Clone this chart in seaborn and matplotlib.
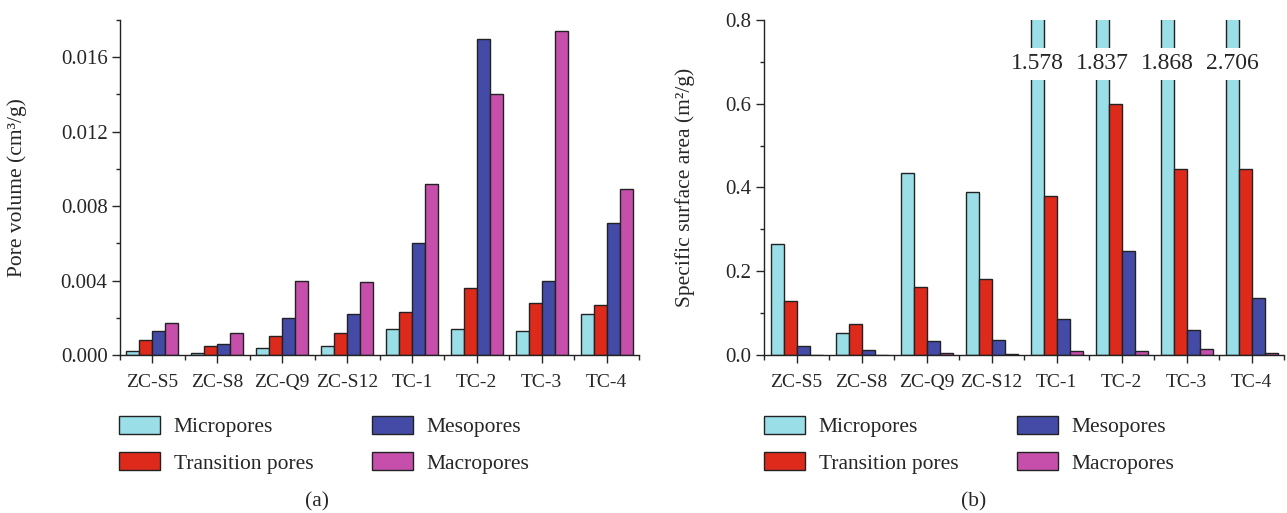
import pandas as pd
import numpy as np
import matplotlib
matplotlib.use('Agg')
import matplotlib.pyplot as plt
from matplotlib.patches import Patch
from matplotlib.ticker import MultipleLocator, FixedLocator, FormatStrFormatter
import seaborn as sns

# data
samples = ['ZC-S5', 'ZC-S8', 'ZC-Q9', 'ZC-S12', 'TC-1', 'TC-2', 'TC-3', 'TC-4']
pore_types = ['Micropores', 'Transition pores', 'Mesopores', 'Macropores']

# (a) pore volume, cm3/g
vol_micro = [0.0002, 0.0001, 0.0004, 0.0005, 0.0014, 0.0014, 0.0013, 0.0022]
vol_trans = [0.0008, 0.0005, 0.0010, 0.0012, 0.0023, 0.0036, 0.0028, 0.0027]
vol_meso = [0.0013, 0.0006, 0.0020, 0.0022, 0.0060, 0.0170, 0.0040, 0.0071]
vol_macro = [0.0017, 0.0012, 0.0040, 0.0039, 0.0092, 0.0140, 0.0174, 0.0089]

# (b) specific surface area, m2/g
ssa_micro = [0.266, 0.052, 0.435, 0.389, 1.578, 1.837, 1.868, 2.706]
ssa_trans = [0.128, 0.074, 0.163, 0.181, 0.380, 0.600, 0.444, 0.443]
ssa_meso = [0.022, 0.011, 0.033, 0.036, 0.087, 0.248, 0.060, 0.136]
ssa_macro = [0.001, 0.000, 0.005, 0.003, 0.009, 0.010, 0.014, 0.005]

colors = ['#9adfe8', '#dd2a1b', '#434ba6', '#c54fab']


def long_table(series):
    rows = []
    for name, vals in zip(pore_types, series):
        for s, v in zip(samples, vals):
            rows.append({'sample': s, 'type': name, 'value': v})
    return pd.DataFrame(rows)


df_vol = long_table([vol_micro, vol_trans, vol_meso, vol_macro])
df_ssa = long_table([ssa_micro, ssa_trans, ssa_meso, ssa_macro])

sns.set_style('ticks')
plt.rcParams['font.family'] = ['Liberation Serif', 'DejaVu Serif']
plt.rcParams['font.size'] = 14
plt.rcParams['axes.linewidth'] = 1.0

fig = plt.figure(figsize=(12.87, 5.13), dpi=100)
ax1 = fig.add_axes([120/1287, 158/513, 519/1287, 335/513])
ax2 = fig.add_axes([764/1287, 158/513, 520/1287, 335/513])


def draw(ax, df):
    sns.barplot(data=df, x='sample', y='value', hue='type', hue_order=pore_types,
                order=samples, palette=colors, saturation=1, width=0.8, errorbar=None,
                edgecolor='#222222', linewidth=1.0, legend=False, ax=ax)
    sns.despine(ax=ax)
    ax.set_xlim(-0.5, 7.5)
    ax.set_xlabel('')
    ax.xaxis.set_minor_locator(FixedLocator(np.arange(-0.5, 8, 1)))
    ax.tick_params(axis='x', which='major', length=6, width=1, direction='out', pad=8, labelsize=14)
    ax.tick_params(axis='x', which='minor', length=3.5, width=1, direction='out')
    ax.tick_params(axis='y', which='major', length=5.5, width=1, direction='out', labelsize=15)
    ax.tick_params(axis='y', which='minor', length=3, width=1, direction='out')
    for sp in ax.spines.values():
        sp.set_color('#222222')


draw(ax1, df_vol)
ax1.set_ylim(0, 0.018)
ax1.yaxis.set_major_locator(MultipleLocator(0.004))
ax1.yaxis.set_minor_locator(MultipleLocator(0.002))
ax1.yaxis.set_major_formatter(FormatStrFormatter('%.3f'))
ax1.set_ylabel('Pore volume (cm³/g)', fontsize=15.5)
ax1.yaxis.set_label_coords(-0.179, 0.5)

draw(ax2, df_ssa)
ax2.set_ylim(0, 0.8)
ax2.yaxis.set_major_locator(MultipleLocator(0.2))
ax2.yaxis.set_minor_locator(MultipleLocator(0.1))
ax2.yaxis.set_major_formatter(FormatStrFormatter('%.1f'))
ax2.set_ylabel('Specific surface area (m²/g)', fontsize=15.5)
ax2.yaxis.set_label_coords(-0.133, 0.5)

# broken tall micropore bars: value written across the bar
for i, v in enumerate(ssa_micro):
    if v > 0.8:
        ax2.text(i - 0.3, 0.695, f'{v:.3f}', ha='center', va='center', fontsize=17,
                 bbox=dict(facecolor='white', edgecolor='none', pad=4))

handles = [Patch(facecolor=c, edgecolor='#222222', linewidth=1.0) for c in colors]
for ax, x0, cap, cx in [(ax1, 119, '(a)', 317), (ax2, 764, '(b)', 974)]:
    ax.legend(handles, pore_types, loc='upper left', ncol=2, frameon=False,
              bbox_to_anchor=(x0/1287, 1 - 416/513), bbox_transform=fig.transFigure,
              borderaxespad=0, borderpad=0, handlelength=1.9, handleheight=0.9,
              handletextpad=0.65, labelspacing=0.7, columnspacing=2.7, fontsize=15.5)
    fig.text(cx/1287, 1 - 502/513, cap, ha='center', va='center', fontsize=15.5)

fig.savefig('out.png', dpi=100)
